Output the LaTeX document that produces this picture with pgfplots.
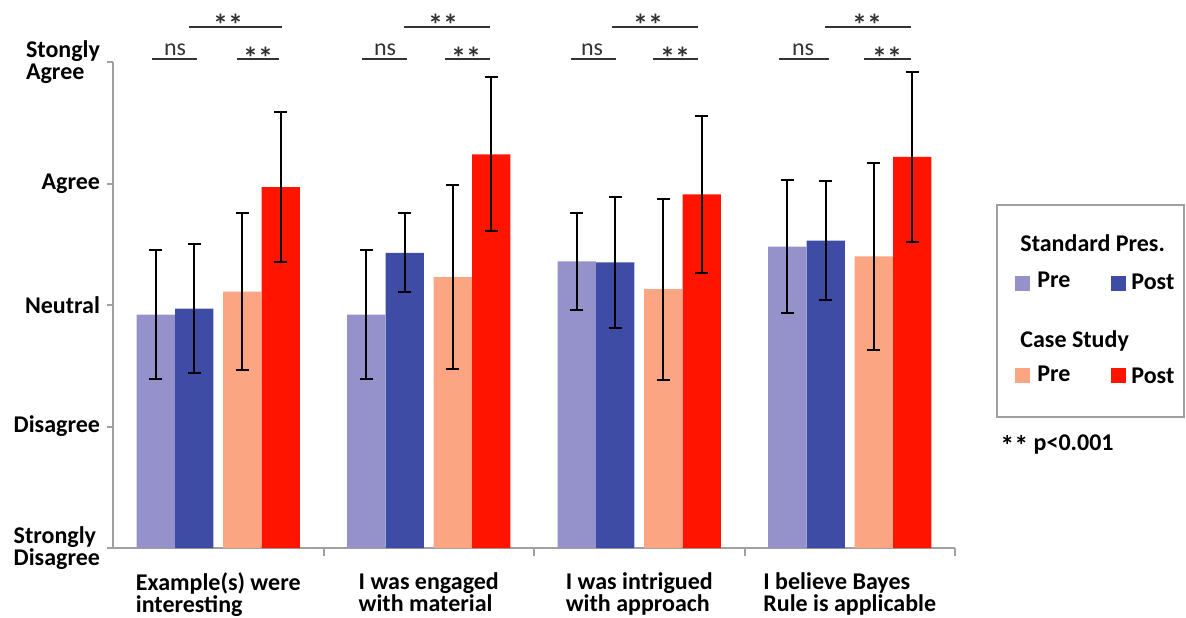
\documentclass[border=0pt]{standalone}
\usepackage{pgfplots}
\pgfplotsset{compat=1.18}
\usepackage{fontspec}
\setmainfont{Carlito}
\definecolor{lp}{HTML}{9591CB}
\definecolor{db}{HTML}{3E4CA6}
\definecolor{sal}{HTML}{FBA583}
\definecolor{rd}{HTML}{FF1400}
\definecolor{axg}{HTML}{A0A0A0}
\begin{document}
\begin{tikzpicture}
\begin{axis}[
  scale only axis, width=421pt, height=243pt,
  xmin=-0.5, xmax=3.5, ymin=1, ymax=5,
  axis lines=left,
  axis line style={draw=axg, line width=1pt, -},
  clip mode=individual,
  tick align=outside,
  tick style={draw=axg, line width=1pt},
  xtick={0,1,2,3},
  xticklabels={{Example(s) were\\interesting},{I was engaged\\with material},{I was intrigued\\with approach},{I believe Bayes\\Rule is applicable}},
  major x tick style={draw=none},
  minor xtick={0.5,1.5,2.5,3.5},
  minor tick length=4pt,
  major tick length=3pt,
  ytick={1,2,3,4,5},
  yticklabels={{Strongly\\Disagree},Disagree,Neutral,Agree,{Stongly\\Agree}},
  yticklabel style={align=left, font=\bfseries\fontsize{12}{11}\selectfont},
  xticklabel style={align=left, font=\bfseries\fontsize{12}{11}\selectfont, yshift=-6pt},
  error bars/error bar style={black, line width=1pt},
  error bars/error mark options={rotate=90, mark size=3.25pt, line width=1pt, black},
]
\addplot[ybar, bar width=0.182, bar shift=0, fill=lp, draw=none,
  error bars/.cd, y dir=both, y explicit]
  coordinates {(-0.297,2.92) +- (0,0.53) (0.703,2.92) +- (0,0.53) (1.703,3.36) +- (0,0.40) (2.703,3.48) +- (0,0.545)};
\addplot[ybar, bar width=0.182, bar shift=0, fill=db, draw=none,
  error bars/.cd, y dir=both, y explicit]
  coordinates {(-0.114,2.97) +- (0,0.53) (0.886,3.43) +- (0,0.325) (1.886,3.35) +- (0,0.54) (2.886,3.53) +- (0,0.49)};
\addplot[ybar, bar width=0.182, bar shift=0, fill=sal, draw=none,
  error bars/.cd, y dir=both, y explicit]
  coordinates {(0.114,3.11) +- (0,0.645) (1.114,3.23) +- (0,0.755) (2.114,3.13) +- (0,0.745) (3.114,3.40) +- (0,0.77)};
\addplot[ybar, bar width=0.182, bar shift=0, fill=rd, draw=none,
  error bars/.cd, y dir=both, y explicit]
  coordinates {(0.297,3.97) +- (0,0.615) (1.297,4.24) +- (0,0.635) (2.297,3.91) +- (0,0.645) (3.297,4.22) +- (0,0.70)};
\end{axis}
\coordinate (O) at ([xshift=-56.5pt, yshift=274pt]current axis.south west);
\begin{scope}[shift={(O)}, x=0.5pt, y=-0.5pt]
  % significance annotations
  \begin{scope}[line width=1pt, draw=black!80]
    \foreach \a/\b/\c/\d/\e/\f/\g/\h/\i in {
      152/197/175/237/279/258/189/282/228,
      362/407/385/445/490/466/404/490/443,
      571/616/592/653/698/675/612/698/648,
      779/829/803/864/911/887/825/911/867}{
      \draw (\a,59) -- (\b,59);
      \node[anchor=base, font=\fontsize{12}{12}\selectfont, text=black!80] at (\c,56) {ns};
      \draw (\d,59) -- (\e,59);
      \node[font=\bfseries\fontsize{15}{15}\selectfont, text=black!80] at (\f,58) {**};
      \draw (\g,27) -- (\h,27);
      \node[font=\bfseries\fontsize{15}{15}\selectfont, text=black!80] at (\i,25) {**};
    }
  \end{scope}
  % legend
  \draw[axg, line width=1pt] (997,205) rectangle (1184,417);
  \begin{scope}[font=\bfseries\fontsize{12}{12}\selectfont]
    \node[anchor=base west, inner sep=0] at (1020,251) {Standard Pres.};
    \fill[lp] (1015,276) rectangle (1030,291);
    \node[anchor=base west, inner sep=0] at (1037,287) {Pre};
    \fill[db] (1111,276) rectangle (1126,291);
    \node[anchor=base west, inner sep=0] at (1131,289) {Post};
    \node[anchor=base west, inner sep=0] at (1020,347) {Case Study};
    \fill[sal] (1015,368) rectangle (1030,383);
    \node[anchor=base west, inner sep=0] at (1037,381) {Pre};
    \fill[rd] (1111,368) rectangle (1126,383);
    \node[anchor=base west, inner sep=0] at (1131,383) {Post};
    \node[anchor=base west, inner sep=0] at (1000,450) {\raisebox{-2.5pt}{\fontsize{14}{14}\selectfont**} p<0.001};
  \end{scope}
  \pgfresetboundingbox
  \path[use as bounding box] (0,0) rectangle (1186,617);
\end{scope}
\end{tikzpicture}
\end{document}
